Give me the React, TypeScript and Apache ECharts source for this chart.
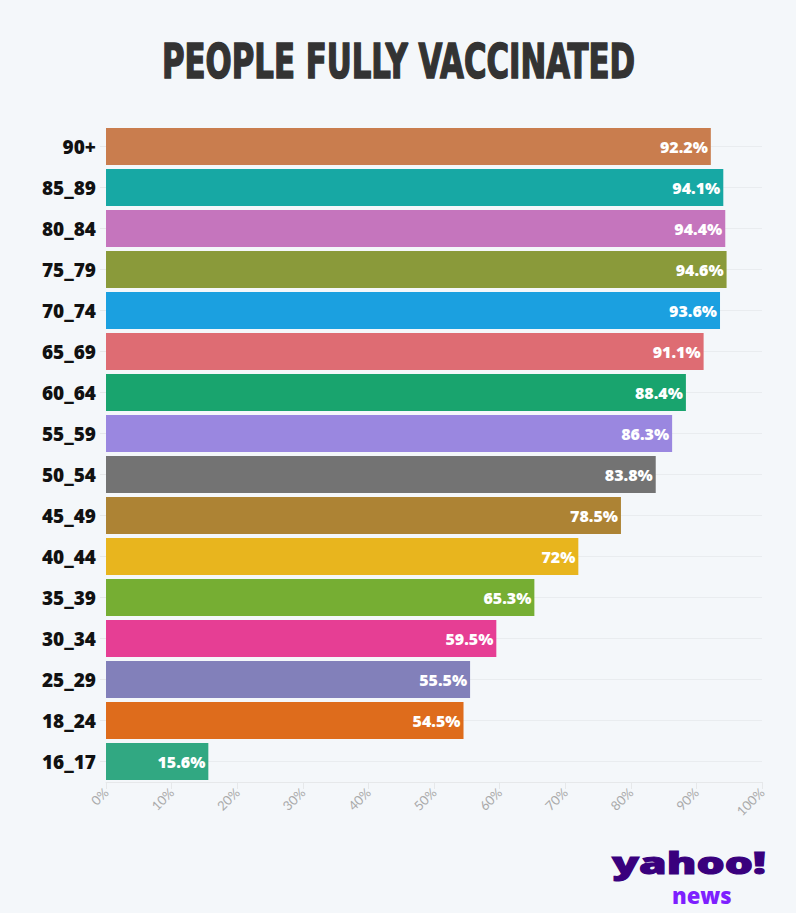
import React, { useEffect, useRef } from "react";
import * as echarts from "echarts";

const categories = ["90+", "85_89", "80_84", "75_79", "70_74", "65_69", "60_64", "55_59", "50_54", "45_49", "40_44", "35_39", "30_34", "25_29", "18_24", "16_17"];
const values = [92.2, 94.1, 94.4, 94.6, 93.6, 91.1, 88.4, 86.3, 83.8, 78.5, 72, 65.3, 59.5, 55.5, 54.5, 15.6];
const colors = ["#c97d4e", "#17a8a4", "#c575bd", "#8a9a3a", "#1ba0e0", "#de6c73", "#19a46e", "#9a87e0", "#737373", "#ad8334", "#e8b51e", "#76ae33", "#e63e94", "#8280ba", "#de6c1c", "#31a882"];
const xTicks = [0, 10, 20, 30, 40, 50, 60, 70, 80, 90, 100];

export default function App() {
  const ref = useRef<HTMLDivElement>(null);
  useEffect(() => {
    if (!ref.current) return;
    const chart = echarts.init(ref.current, null, { renderer: "svg" });
    chart.setOption({
      animation: false,
      backgroundColor: "#f4f7fa",
      grid: { left: 106, right: 34, top: 126, bottom: 131 },
      xAxis: {
        type: "value",
        min: xTicks[0],
        max: xTicks[xTicks.length - 1],
        interval: 10,
        axisLine: { show: true, lineStyle: { color: "#e6e8ea" } },
        axisTick: { show: true, length: 7, lineStyle: { color: "#e6e8ea" } },
        splitLine: { show: false },
        axisLabel: {
          rotate: 45,
          color: "#aaaaaa",
          fontSize: 13,
          fontFamily: "Lato",
          margin: 8,
          formatter: (v: number) => v + "%",
        },
      },
      yAxis: {
        type: "category",
        inverse: true,
        data: categories,
        axisLine: { show: false },
        axisTick: { show: true, alignWithLabel: true, length: 6, lineStyle: { color: "#e6e8ea" } },
        splitLine: { show: true, alignWithLabel: true, lineStyle: { color: "#e9ecef" } },
        axisLabel: {
          color: "#111111",
          fontSize: 19,
          fontWeight: 800,
          fontFamily: "Open Sans",
          margin: 10,
        },
      },
      series: [
        {
          type: "bar",
          data: values.map((v, i) => ({ value: v, itemStyle: { color: colors[i] } })),
          barCategoryGap: "10%",
          label: {
            show: true,
            position: "insideRight",
            distance: 3,
            color: "#ffffff",
            fontSize: 16,
            fontWeight: 800,
            fontFamily: "Open Sans",
            textBorderWidth: 3,
            textBorderColor: "inherit",
            formatter: (p: any) => p.value + "%",
          },
        },
      ],
      graphic: [
        {
          type: "text",
          x: 162,
          y: 37,
          scaleX: 0.713,
          style: {
            text: "PEOPLE FULLY VACCINATED",
            font: "bold 48px 'DejaVu Sans Condensed'",
            fill: "#333333",
            stroke: "#333333",
            lineWidth: 1.5,
          },
        },
        {
          type: "text",
          x: 612,
          y: 848,
          scaleX: 1.48,
          style: {
            text: "yahoo!",
            font: "800 30px 'Open Sans'",
            fill: "#39007d",
            stroke: "#39007d",
            lineWidth: 1,
          },
        },
        {
          type: "text",
          x: 672,
          y: 884,
          style: {
            text: "news",
            font: "800 22px 'Open Sans'",
            fill: "#7e1fff",
          },
        },
      ],
    });
    return () => chart.dispose();
  }, []);
  return <div ref={ref} style={{ position: "fixed", left: 0, top: 0, width: 796, height: 913 }} />;
}
